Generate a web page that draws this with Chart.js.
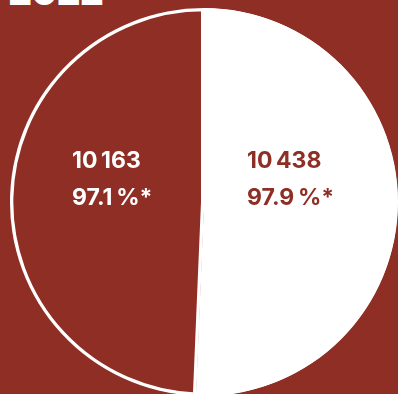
<!DOCTYPE html>
<html>
<head>
<meta charset="utf-8">
<script src="https://cdn.jsdelivr.net/npm/chart.js@4/dist/chart.umd.min.js"></script>
<style>
  html, body { margin: 0; padding: 0; }
  body { width: 398px; height: 394px; overflow: hidden; background: #8f2e25; position: relative; }
  #title { position: absolute; left: 8px; top: -28px; color: #fff; font: 800 38px Inter, sans-serif; letter-spacing: -1px; line-height: 38px; }
  #wrap { position: absolute; left: 10px; top: 8px; width: 388px; height: 388px; }
</style>
</head>
<body>
<div id="title">2022</div>
<div id="wrap"><canvas id="pie"></canvas></div>
<script>
// 2022 – deux groupes
const bg = '#8f2e25';
const values = [10438, 10163];
const counts = ['10\u202F438', '10\u202F163'];
const shares = ['97.9\u202F%*', '97.1\u202F%*'];
const colors = ['#ffffff', bg];
const textColors = [bg, '#ffffff'];
const labelShift = [-54, -35];

const sliceLabels = {
  id: 'sliceLabels',
  afterDatasetsDraw(chart) {
    const ctx = chart.ctx;
    const arcs = chart.getDatasetMeta(0).data;
    const cy = arcs[0].y;
    ctx.save();
    ctx.font = '700 23px Inter, sans-serif';
    ctx.letterSpacing = '-1px';
    ctx.textAlign = 'left';
    ctx.textBaseline = 'alphabetic';
    arcs.forEach((arc, i) => {
      const p = arc.tooltipPosition();
      ctx.fillStyle = textColors[i];
      ctx.fillText(counts[i], p.x + labelShift[i], cy - 34);
      ctx.fillText(shares[i], p.x + labelShift[i], cy + 3);
    });
    ctx.restore();
  }
};

new Chart(document.getElementById('pie'), {
  type: 'pie',
  data: {
    labels: ['A', 'B'],
    datasets: [{
      data: values,
      backgroundColor: colors,
      borderColor: '#ffffff',
      borderWidth: 3,
      borderAlign: 'inner'
    }]
  },
  options: {
    responsive: true,
    maintainAspectRatio: false,
    animation: false,
    layout: { padding: 0 },
    plugins: {
      legend: { display: false },
      tooltip: { enabled: false }
    }
  },
  plugins: [sliceLabels]
});
</script>
</body>
</html>
